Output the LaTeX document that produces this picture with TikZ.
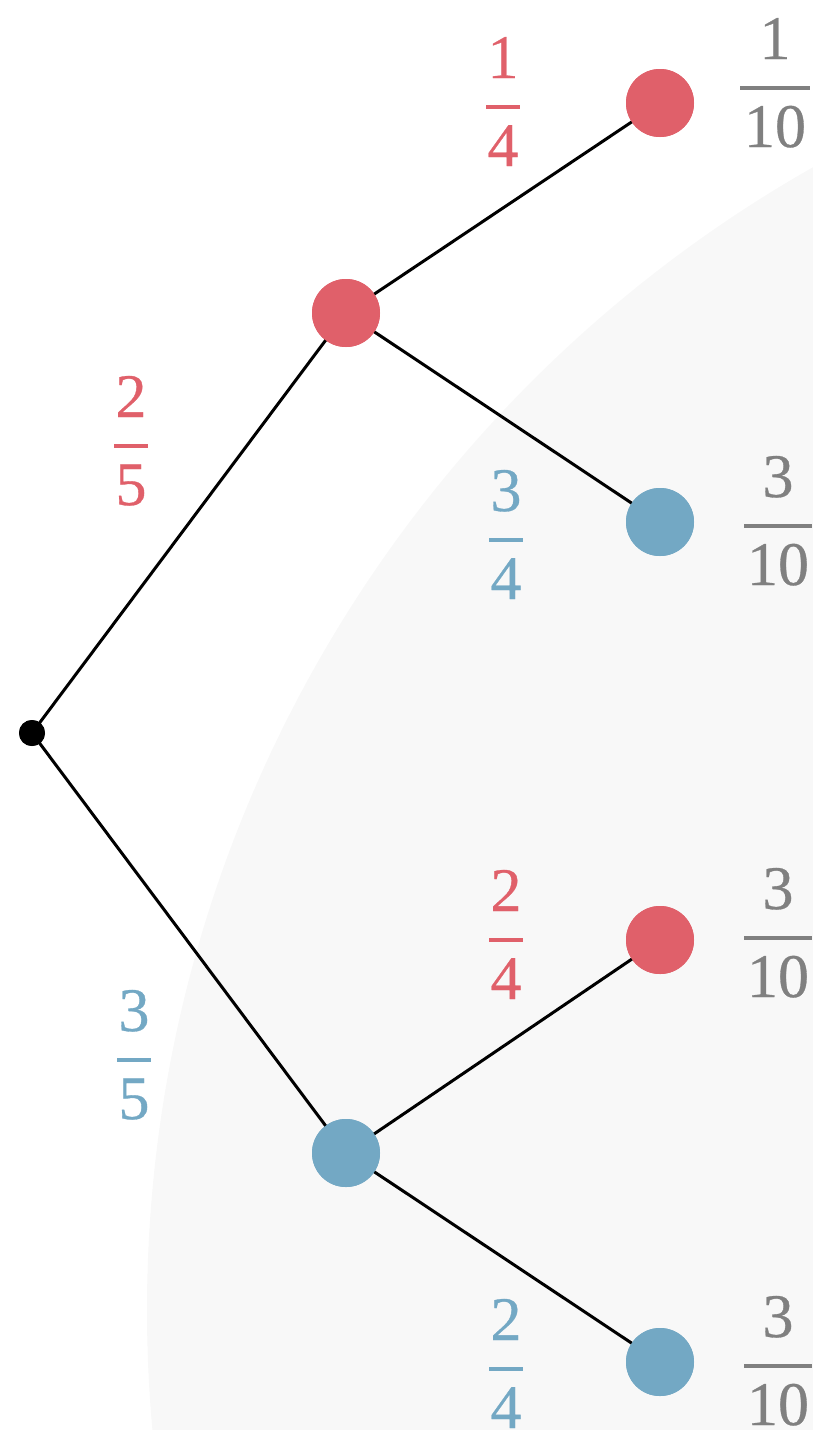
\documentclass[tikz,border=0pt]{standalone}
\usepackage{fontspec}
\setmainfont{Liberation Serif}
\newfontfamily\digitfont[FakeBold=0.5]{Liberation Serif}
\definecolor{rednode}{RGB}{224,96,106}
\definecolor{bluenode}{RGB}{115,168,196}
\definecolor{graytext}{RGB}{128,128,128}
\definecolor{bgshade}{RGB}{248,248,248}
\tikzset{
  edge/.style={draw=black, line width=1.5pt},
  leafdot/.style={circle, inner sep=0pt, minimum size=34pt},
  reddot/.style={leafdot, fill=rednode},
  bluedot/.style={leafdot, fill=bluenode},
  rootdot/.style={circle, inner sep=0pt, minimum size=13pt, fill=black},
  digits/.style={inner sep=0pt, anchor=base, font=\digitfont\fontsize{31}{33}\selectfont},
  fracbar/.style={line width=2pt},
}
% probability fraction: name, x, y of bar, colour, numerator, denominator, half bar width
\newcommand\probfrac[7]{%
  \node[digits, text=#4] (#1-num) at (#2,#3-29) {#5};
  \node[digits, text=#4] (#1-den) at (#2,#3+59) {#6};
  \draw[fracbar, #4] (#2-#7,#3) -- (#2+#7,#3);
}
\begin{document}
\begin{tikzpicture}[x=0.5pt,y=-0.5pt]
  \useasboundingbox (0,0) rectangle (813,1430);
  \begin{scope}
    \clip (0,0) rectangle (813,1430);
    \fill[bgshade] (1460,1310) circle[radius=656.5pt];
  \end{scope}

  % tree nodes
  \node[rootdot] (root) at (32,733) {};
  \node[reddot]  (r)  at (346,313) {};
  \node[bluedot] (b)  at (346,1153) {};
  \node[reddot]  (rr) at (660,103) {};
  \node[bluedot] (rb) at (660,522) {};
  \node[reddot]  (br) at (660,940) {};
  \node[bluedot] (bb) at (660,1362) {};

  % branches
  \draw[edge] (root.center) -- (r.center);
  \draw[edge] (root.center) -- (b.center);
  \draw[edge] (r.center) -- (rr.center);
  \draw[edge] (r.center) -- (rb.center);
  \draw[edge] (b.center) -- (br.center);
  \draw[edge] (b.center) -- (bb.center);

  % redraw dots over the branch ends
  \node[rootdot] at (root) {};
  \node[reddot]  at (r) {};
  \node[bluedot] at (b) {};
  \node[reddot]  at (rr) {};
  \node[bluedot] at (rb) {};
  \node[reddot]  at (br) {};
  \node[bluedot] at (bb) {};

  % branch probabilities
  \probfrac{p1}{131}{446}{rednode}{2}{5}{17}
  \probfrac{p2}{134}{1060}{bluenode}{3}{5}{17}
  \probfrac{p3}{503}{107}{rednode}{1}{4}{17}
  \probfrac{p4}{506}{540}{bluenode}{3}{4}{17}
  \probfrac{p5}{506}{940}{rednode}{2}{4}{17}
  \probfrac{p6}{506}{1369}{bluenode}{2}{4}{17}

  % outcome probabilities
  \probfrac{q1}{775}{88}{graytext}{1}{10}{35}
  \probfrac{q2}{778}{526}{graytext}{3}{10}{34}
  \probfrac{q3}{778}{938}{graytext}{3}{10}{34}
  \probfrac{q4}{778}{1366}{graytext}{3}{10}{34}
\end{tikzpicture}
\end{document}
